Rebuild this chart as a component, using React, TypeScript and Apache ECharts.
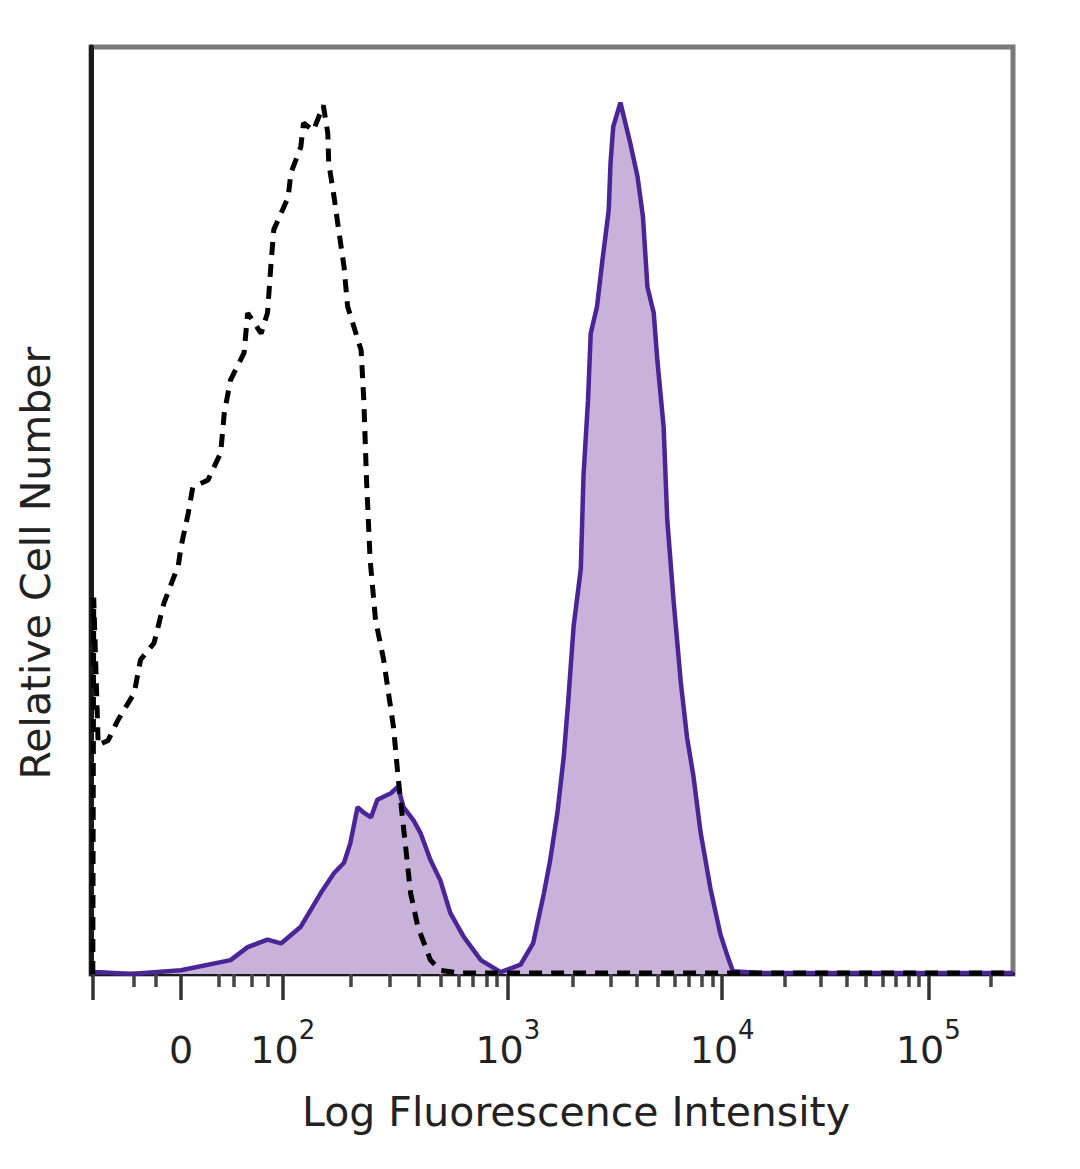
import React, { useEffect, useRef } from "react";
import * as echarts from "echarts";

// x: display channel (0..1024) of the logicle-scaled fluorescence axis
// y: relative cell number (% of plot height)
const ISOTYPE_X = [2, 3, 8, 19, 30, 48, 55, 70, 81, 97, 100, 108, 113, 130, 144, 148, 155, 170, 174, 189, 196, 200, 203, 219, 222, 233, 236, 247, 258, 263, 264, 270, 274, 281, 285, 300, 303, 306, 310, 316, 325, 336, 341, 347, 355, 363, 377, 388, 410, 1024];
const ISOTYPE_Y = [0, 40.6, 24.7, 25.2, 27.4, 30.3, 33.9, 35.7, 40.0, 44.1, 46.1, 49.7, 52.5, 53.3, 56.2, 60.5, 64.1, 67.0, 71.3, 69.1, 71.3, 76.7, 80.3, 83.8, 86.4, 89.2, 91.8, 91.0, 93.7, 90.7, 87.5, 83.8, 81.0, 76.3, 72.0, 67.3, 61.9, 53.3, 44.7, 38.2, 33.9, 26.6, 21.3, 15.9, 8.7, 5.1, 1.5, 0.4, 0.1, 0.1];

const STAINED_X = [2, 11, 44, 100, 155, 174, 196, 211, 233, 255, 270, 281, 288, 296, 303, 311, 318, 333, 341, 347, 358, 366, 377, 388, 399, 414, 433, 455, 477, 491, 503, 510, 518, 525, 530, 536, 544, 547, 552, 555, 562, 568, 575, 577, 580, 588, 599, 607, 613, 618, 625, 629, 636, 640, 647, 655, 662, 669, 677, 688, 699, 707, 713, 743, 1024];
const STAINED_Y = [0.2, 0.2, 0, 0.4, 1.5, 2.9, 3.7, 3.3, 5.1, 8.7, 10.9, 12.0, 14.1, 18.0, 17.4, 16.9, 18.8, 19.5, 20.2, 18.0, 16.6, 15.2, 12.3, 10.1, 6.6, 4.0, 1.5, 0.2, 1.0, 3.3, 8.7, 12.3, 17.4, 23.4, 29.4, 37.5, 43.7, 53.8, 61.9, 69.1, 72.0, 77.0, 82.4, 87.5, 91.4, 94.0, 89.6, 86.0, 81.7, 74.1, 71.3, 66.2, 59.0, 49.0, 40.3, 31.5, 25.5, 21.4, 15.3, 9.2, 4.3, 1.9, 0.3, 0.1, 0.1];

const LABEL_CH = [100, 213, 463, 701, 930];
const LABEL_BASE = ["0", "10", "10", "10", "10"];
const LABEL_EXP = ["", "2", "3", "4", "5"];
const MAJOR_TICK_CH = [2, 100, 213, 463, 701, 930];
const MINOR_TICK_CH = [48, 72, 142, 159, 178, 196, 288, 332, 364, 388, 408, 424, 439, 451, 535, 577, 606, 629, 648, 664, 678, 690, 770, 810, 839, 861, 879, 894, 908, 919, 999];

const X_TITLE = "Log Fluorescence Intensity";
const Y_TITLE = "Relative Cell Number";

const FONT = "DejaVu Sans";

export default function App() {
  const ref = useRef<HTMLDivElement>(null);
  useEffect(() => {
    if (!ref.current) return;
    const chart = echarts.init(ref.current, null, { renderer: "svg" });
    const zip = (xs: number[], ys: number[]) => xs.map((x, i) => [x, ys[i]]);
    chart.setOption({
      animation: false,
      backgroundColor: "#ffffff",
      grid: {
        left: 91,
        right: 67,
        top: 47,
        bottom: 195,
        show: true,
        borderColor: "#7a7a7a",
        borderWidth: 5,
        backgroundColor: "transparent",
        outerBoundsMode: "none",
      },
      xAxis: [
        {
          type: "value",
          min: 0,
          max: 1024,
          position: "bottom",
          splitLine: { show: false },
          axisLine: { show: true, onZero: false, lineStyle: { color: "#1a1a1a", width: 4 } },
          axisTick: {
            show: true,
            inside: false,
            length: 26,
            customValues: MAJOR_TICK_CH,
            lineStyle: { color: "#333", width: 3.5 },
          },
          axisLabel: {
            show: true,
            margin: 42,
            customValues: LABEL_CH,
            formatter: (v: number) => {
              const i = LABEL_CH.indexOf(v);
              if (i < 0) return "";
              return `{a|${LABEL_BASE[i]}}` + (LABEL_EXP[i] ? `{b|${LABEL_EXP[i]}}` : "");
            },
            rich: {
              a: { fontFamily: FONT, fontSize: 38, color: "#222", lineHeight: 68 },
              b: { fontFamily: FONT, fontSize: 26, color: "#222", padding: [0, 0, 40, 0] },
            },
          },
        },
        {
          type: "value",
          min: 0,
          max: 1024,
          position: "bottom",
          splitLine: { show: false },
          axisLine: { show: false },
          axisTick: {
            show: true,
            inside: false,
            length: 13,
            customValues: MINOR_TICK_CH,
            lineStyle: { color: "#444", width: 3.5 },
          },
          axisLabel: { show: false },
        },
      ],
      yAxis: {
        type: "value",
        min: 0,
        max: 100,
        splitLine: { show: false },
        axisTick: { show: false },
        axisLabel: { show: false },
        axisLine: { show: true, lineStyle: { color: "#1a1a1a", width: 5 } },
      },
      series: [
        {
          name: "Stained",
          type: "line",
          xAxisIndex: 0,
          data: zip(STAINED_X, STAINED_Y),
          symbol: "none",
          z: 2,
          lineStyle: { color: "#4a2596", width: 4.5 },
          areaStyle: { color: "#c9b2da", opacity: 1 },
        },
        {
          name: "Isotype control",
          type: "line",
          xAxisIndex: 0,
          data: zip(ISOTYPE_X, ISOTYPE_Y),
          symbol: "none",
          z: 3,
          lineStyle: { color: "#000000", width: 5, type: [13, 9] },
        },
      ],
      graphic: [
        {
          type: "text",
          x: 576,
          y: 1112,
          style: {
            text: X_TITLE,
            fontFamily: FONT,
            fontSize: 41,
            fill: "#222",
            align: "center",
            verticalAlign: "middle",
          },
        },
        {
          type: "text",
          x: 36,
          y: 563,
          rotation: Math.PI / 2,
          style: {
            text: Y_TITLE,
            fontFamily: FONT,
            fontSize: 41,
            fill: "#222",
            align: "center",
            verticalAlign: "middle",
          },
        },
      ],
    });
    return () => chart.dispose();
  }, []);
  return (
    <div
      ref={ref}
      style={{ position: "absolute", left: 0, top: 0, width: 1080, height: 1169, background: "#fff" }}
    />
  );
}
